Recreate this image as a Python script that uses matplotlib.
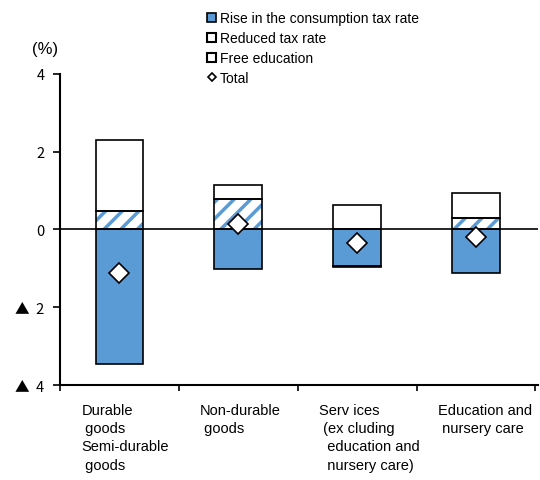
import numpy as np
import matplotlib.pyplot as plt
from matplotlib.patches import Patch
from matplotlib.lines import Line2D

plt.rcParams['font.family'] = ['Liberation Sans', 'DejaVu Sans']
plt.rcParams['hatch.linewidth'] = 2.5

categories = ["Durable\n goods\nSemi-durable\n goods",
              "Non-durable\n goods",
              "Serv ices\n (ex cluding\n  education and\n  nursery care)",
              "Education and\n nursery care"]
tax_rise = [-3.46, -1.02, -0.93, -1.12]
reduced_rate = [0.47, 0.78, -0.03, 0.30]
free_edu = [1.83, 0.36, 0.62, 0.64]
total = [-1.12, 0.14, -0.35, -0.20]
yticks = [4, 2, 0, -2, -4]
yticklabels = ["4", "2", "0", "▲  2", "▲  4"]

blue = "#5B9BD5"
width = 0.4
x = np.arange(len(categories))

fig = plt.figure(figsize=(5.4, 4.81), dpi=100)
ax = fig.add_axes([0.111, 0.1975, 0.885, 0.647])

pos_base = np.zeros(len(x))
neg_base = np.zeros(len(x))

def stack(vals, **kw):
    vals = np.array(vals)
    bottom = np.where(vals >= 0, pos_base, neg_base)
    bars = ax.bar(x, vals, width, bottom=bottom, **kw)
    pos_base[:] += np.clip(vals, 0, None)
    neg_base[:] += np.clip(vals, None, 0)
    return bars, bottom

stack(tax_rise, color=blue, edgecolor="black", linewidth=1.2, zorder=2)
# hatched layer first, then a black outline on top
vals = np.array(reduced_rate)
bottom = np.where(vals >= 0, pos_base, neg_base)
ax.bar(x, vals, width, bottom=bottom, facecolor="white", edgecolor=blue,
       hatch="//", linewidth=0, zorder=2)
ax.bar(x, vals, width, bottom=bottom, fill=False, edgecolor="black",
       linewidth=1.2, zorder=3)
pos_base += np.clip(vals, 0, None)
neg_base += np.clip(vals, None, 0)
stack(free_edu, color="white", edgecolor="black", linewidth=1.2, zorder=2)

ax.plot(x, total, linestyle="none", marker="D", markersize=10,
        markerfacecolor="white", markeredgecolor="black", markeredgewidth=1.2,
        zorder=4)

ax.axhline(0, color="black", linewidth=1.2, zorder=3)

ax.set_ylim(-4, 4)
ax.set_xlim(-0.5, len(x) - 0.5 + 0.02)
ax.set_yticks(yticks)
ax.set_yticklabels(yticklabels, fontsize=10.5, family=['Noto Sans CJK JP'])
ax.set_xticks(np.arange(len(x) + 1) - 0.5)
ax.set_xticklabels([])
ax.tick_params(axis="y", direction="out", length=5, width=1.2, pad=6)
ax.tick_params(axis="x", direction="out", length=4, width=1.2)
for s in ["top", "right"]:
    ax.spines[s].set_visible(False)
for s in ["left", "bottom"]:
    ax.spines[s].set_linewidth(1.5)

for xi, lab in zip(x, categories):
    ax.text(xi - 0.32, -4.45, lab, ha="left", va="top", fontsize=10.5,
            linespacing=1.4)

fig.text(0.06, 0.888, "(%)", fontsize=12)

handles = [Patch(facecolor=blue, edgecolor="black", linewidth=1.2),
           Patch(facecolor="white", edgecolor="black", linewidth=1.5),
           Patch(facecolor="white", edgecolor="black", linewidth=1.5),
           Line2D([], [], linestyle="none", marker="D", markersize=4,
                  markerfacecolor="white", markeredgecolor="black",
                  markeredgewidth=1.2)]
labels = ["Rise in the consumption tax rate", "Reduced tax rate",
          "Free education", "Total"]
fig.legend(handles, labels, loc="upper left", bbox_to_anchor=(0.366, 0.995),
           frameon=False, fontsize=10, handlelength=0.6, handleheight=0.6,
           handletextpad=0.3, labelspacing=0.43, borderaxespad=0.3)

fig.savefig("out.png", dpi=100)
